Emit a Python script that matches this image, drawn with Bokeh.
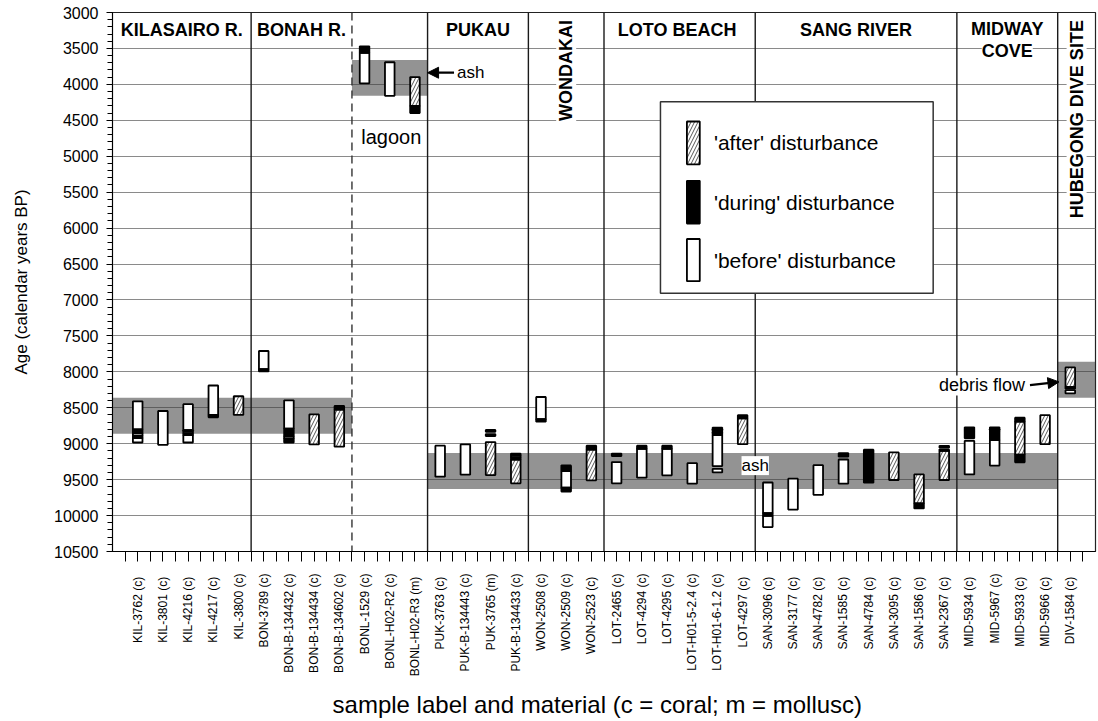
import math
from bokeh.plotting import figure
from bokeh.models import Range1d, SingleIntervalTicker, FixedTicker, Label, Arrow, NormalHead
from bokeh.core.properties import value
from bokeh.embed import file_html
from bokeh.resources import INLINE

# ---------------- data ----------------
sample_ids = ["KIL-3762", "KIL-3801", "KIL-4216", "KIL-4217", "KIL-3800",
              "BON-3789", "BON-B-134432", "BON-B-134434", "BON-B-134602",
              "BONL-1529", "BONL-H02-R2", "BONL-H02-R3",
              "PUK-3763", "PUK-B-134443", "PUK-3765", "PUK-B-134433",
              "WON-2508", "WON-2509", "WON-2523",
              "LOT-2465", "LOT-4294", "LOT-4295", "LOT-H01-5-2.4", "LOT-H01-6-1.2", "LOT-4297",
              "SAN-3096", "SAN-3177", "SAN-4782", "SAN-1585", "SAN-4784", "SAN-3095", "SAN-1586", "SAN-2367",
              "MID-5934", "MID-5967", "MID-5933", "MID-5966",
              "DIV-1584"]
tick_labels = ["KIL-3762  (c)", "KIL-3801  (c)", "KIL-4216  (c)", "KIL-4217  (c)", "KIL-3800 (c)",
               "BON-3789 (c)", "BON-B-134432 (c)", "BON-B-134434 (c)", "BON-B-134602 (c)",
               "BONL-1529 (c)", "BONL-H02-R2 (c)", "BONL-H02-R3  (m)",
               "PUK-3763  (c)", "PUK-B-134443 (c)", "PUK-3765 (m)", "PUK-B-134433 (c)",
               "WON-2508 (c)", "WON-2509 (c)", "WON-2523  (c)",
               "LOT-2465 (c)", "LOT-4294 (c)", "LOT-4295 (c)", "LOT-H01-5-2.4 (c)", "LOT-H01-6-1.2 (c)", "LOT-4297  (c)",
               "SAN-3096  (c)", "SAN-3177  (c)", "SAN-4782  (c)", "SAN-1585  (c)", "SAN-4784  (c)", "SAN-3095  (c)", "SAN-1586  (c)", "SAN-2367  (c)",
               "MID-5934  (c)", "MID-5967 (c)", "MID-5933  (c)", "MID-5966  (c)",
               "DIV-1584  (c)"]

site_headers = ["KILASAIRO R.", "BONAH R.", "", "PUKAU", "WONDAKAI", "LOTO  BEACH",
                "SANG RIVER", "MIDWAY|COVE", "HUBEGONG DIVE SITE"]
site_sizes = [5, 4, 3, 4, 3, 6, 8, 4, 1]

# disturbance-event shaded bands: (first site, last site, younger age, older age)
band_first_site = [0, 2, 3, 8]
band_last_site = [1, 2, 7, 8]
band_young = [8360, 3660, 9130, 7860]
band_old = [8860, 4160, 9630, 8360]

# age segments (sample, younger age, older age)
before_segments = [
    ("KIL-3762", 8410, 8800), ("KIL-3762", 8855, 8890), ("KIL-3762", 8922, 8983),
    ("KIL-3801", 8545, 9015),
    ("KIL-4216", 8450, 8812), ("KIL-4216", 8835, 8862), ("KIL-4216", 8882, 8983),
    ("KIL-4217", 8190, 8600),
    ("BON-3789", 7710, 7962),
    ("BON-B-134432", 8396, 8790), ("BON-B-134432", 8895, 8925),
    ("BONL-1529", 3560, 3985),
    ("BONL-H02-R2", 3692, 4159),
    ("PUK-3763", 9028, 9459),
    ("PUK-B-134443", 9010, 9431),
    ("PUK-B-134433", 9160, 9188),
    ("WON-2508", 8350, 8660),
    ("WON-2509", 9325, 9352), ("WON-2509", 9380, 9612),
    ("LOT-2465", 9255, 9551),
    ("LOT-4294", 9070, 9473),
    ("LOT-4295", 9070, 9440),
    ("LOT-H01-5-2.4", 9271, 9555),
    ("LOT-H01-6-1.2", 8798, 8820), ("LOT-H01-6-1.2", 8842, 8862), ("LOT-H01-6-1.2", 8882, 9312),
    ("LOT-H01-6-1.2", 9350, 9400),
    ("SAN-3096", 9540, 9965), ("SAN-3096", 10005, 10160),
    ("SAN-3177", 9487, 9917),
    ("SAN-4782", 9299, 9711),
    ("SAN-1585", 9220, 9556),
    ("MID-5934", 8800, 8825), ("MID-5934", 8960, 9427),
    ("MID-5967", 8798, 8822), ("MID-5967", 8950, 9305),
    ("DIV-1584", 8255, 8300),
]
during_segments = [
    ("KIL-3762", 8800, 8855), ("KIL-3762", 8890, 8922),
    ("KIL-4216", 8812, 8835), ("KIL-4216", 8862, 8882),
    ("KIL-4217", 8600, 8632),
    ("BON-3789", 7962, 7995),
    ("BON-B-134432", 8790, 8895), ("BON-B-134432", 8925, 8985),
    ("BON-B-134602", 8474, 8525),
    ("BONL-1529", 3470, 3560),
    ("BONL-H02-R3", 4300, 4400),
    ("PUK-3765", 8808, 8835), ("PUK-3765", 8866, 8894),
    ("PUK-B-134433", 9138, 9160), ("PUK-B-134433", 9188, 9221),
    ("WON-2508", 8660, 8694),
    ("WON-2509", 9303, 9325), ("WON-2509", 9352, 9380), ("WON-2509", 9612, 9665),
    ("WON-2523", 9028, 9083),
    ("LOT-2465", 9138, 9172),
    ("LOT-4294", 9028, 9070),
    ("LOT-4295", 9028, 9070),
    ("LOT-H01-6-1.2", 8775, 8798), ("LOT-H01-6-1.2", 8820, 8842), ("LOT-H01-6-1.2", 8862, 8882),
    ("LOT-4297", 8603, 8648),
    ("SAN-3096", 9965, 10005),
    ("SAN-1585", 9130, 9180),
    ("SAN-4784", 9084, 9542),
    ("SAN-1586", 9830, 9900),
    ("SAN-2367", 9030, 9055), ("SAN-2367", 9080, 9100),
    ("MID-5934", 8772, 8800), ("MID-5934", 8825, 8925),
    ("MID-5967", 8772, 8798), ("MID-5967", 8822, 8950),
    ("MID-5933", 8639, 8694), ("MID-5933", 9152, 9258),
    ("DIV-1584", 8210, 8232),
]
after_segments = [
    ("KIL-3800", 8340, 8600),
    ("BON-B-134434", 8593, 9010),
    ("BON-B-134602", 8525, 9042),
    ("BONL-H02-R3", 3898, 4300),
    ("PUK-3765", 8978, 9436),
    ("PUK-B-134433", 9221, 9551),
    ("WON-2523", 9083, 9510),
    ("LOT-4297", 8648, 9006),
    ("SAN-3095", 9120, 9505),
    ("SAN-1586", 9427, 9830),
    ("SAN-2367", 9100, 9505),
    ("MID-5933", 8694, 9152),
    ("MID-5966", 8603, 9006),
    ("DIV-1584", 7938, 8210),
]

legend_labels = ["'after' disturbance", "'during'  disturbance", "'before' disturbance"]

AGE_MIN, AGE_MAX = 3000, 10500
FONT = "Liberation Sans"

# ---------------- geometry helpers ----------------
n = len(sample_ids)
X_LO, X_HI = -1, n
edges = [X_LO]
c = 0
for s in site_sizes:
    c += s
    edges.append(c - 0.5)
edges[-1] = X_HI
idx = {s: i for i, s in enumerate(sample_ids)}
HW = 0.19

p = figure(width=1098, height=721, x_range=Range1d(X_LO, X_HI), y_range=Range1d(AGE_MAX, AGE_MIN),
           output_backend="svg", toolbar_location=None,
           min_border_left=112, min_border_right=3, min_border_top=12, min_border_bottom=163,
           background_fill_color="white", border_fill_color="white")
p.outline_line_color = "#222222"
p.outline_line_width = 1.2

# grid
p.xgrid.visible = False
p.ygrid.ticker = SingleIntervalTicker(interval=500)
p.ygrid.grid_line_color = "#8a8a8a"
p.ygrid.grid_line_width = 1

# y axis
p.yaxis.ticker = SingleIntervalTicker(interval=500, num_minor_ticks=5)
p.yaxis.axis_label = "Age (calendar years BP)"
p.yaxis.axis_label_text_font = FONT
p.yaxis.axis_label_text_font_style = "normal"
p.yaxis.axis_label_text_font_size = "17px"
p.yaxis.axis_label_text_color = "black"
p.yaxis.axis_label_standoff = 20
p.yaxis.major_label_text_font = FONT
p.yaxis.major_label_text_font_size = "16px"
p.yaxis.major_label_text_color = "black"
p.yaxis.major_label_standoff = 8
p.yaxis.major_tick_out = 6
p.yaxis.major_tick_in = 0
p.yaxis.minor_tick_out = 5
p.yaxis.minor_tick_in = 0
p.yaxis.axis_line_color = "black"
p.yaxis.major_tick_line_color = "black"
p.yaxis.minor_tick_line_color = "black"

# x axis
p.xaxis.ticker = FixedTicker(ticks=list(range(n)), minor_ticks=[i - 0.5 for i in range(n + 1)])
p.xaxis.major_label_overrides = {i: lab for i, lab in enumerate(tick_labels)}
p.xaxis.major_label_orientation = math.pi / 2
p.xaxis.major_label_text_font = FONT
p.xaxis.major_label_text_font_size = "12px"
p.xaxis.major_label_text_color = "black"
p.xaxis.major_label_standoff = 12
p.xaxis.major_tick_out = 10
p.xaxis.major_tick_in = 0
p.xaxis.minor_tick_out = 10
p.xaxis.minor_tick_in = 0
p.xaxis.axis_label = "sample label and material (c  = coral; m  = mollusc)"
p.xaxis.axis_label_text_font = FONT
p.xaxis.axis_label_text_font_style = "normal"
p.xaxis.axis_label_text_font_size = "24px"
p.xaxis.axis_label_text_color = "black"
p.xaxis.axis_label_standoff = 12
p.xaxis.axis_line_color = "black"
p.xaxis.major_tick_line_color = "black"
p.xaxis.minor_tick_line_color = "black"

# shaded bands
p.quad(left=[edges[i] for i in band_first_site], right=[edges[i + 1] for i in band_last_site],
       top=band_young, bottom=band_old, fill_color="#3a3a3a", fill_alpha=0.55, line_color=None)

# site separators
solid = [edges[i] for i in range(1, len(edges) - 1) if i != 2]
dashed = [edges[2]]
p.segment(x0=solid, y0=[AGE_MIN] * len(solid), x1=solid, y1=[AGE_MAX] * len(solid),
          line_color="#1a1a1a", line_width=1.4)
p.segment(x0=dashed, y0=[AGE_MIN], x1=dashed, y1=[AGE_MAX],
          line_color="#333333", line_width=1.4, line_dash="8 5")

# sample bars
def seg_cols(segs):
    xs = [idx[s] for s, _, _ in segs]
    return dict(left=[x - HW for x in xs], right=[x + HW for x in xs],
                top=[a for _, a, _ in segs], bottom=[b for _, _, b in segs])

p.quad(**seg_cols(before_segments), fill_color="white", line_color="black", line_width=1.8)
p.quad(**seg_cols(after_segments), fill_color="white", hatch_pattern="/", hatch_color="#555555",
       hatch_scale=7, hatch_weight=1, line_color="black", line_width=1.8)
p.quad(**seg_cols(during_segments), fill_color="black", line_color="black", line_width=1.8)

# legend (drawn in the plot)
lg_left, lg_right, lg_top, lg_bot = 20.74, 31.56, 4242, 6908
p.quad(left=[lg_left], right=[lg_right], top=[lg_top], bottom=[lg_bot],
       fill_color="white", line_color="#333333", line_width=1.5)
gl, gr = 21.79, 22.30
gy_top = [4517, 5342, 6152]
gy_bot = [5112, 5937, 6738]
p.quad(left=[gl], right=[gr], top=[gy_top[0]], bottom=[gy_bot[0]], fill_color="white",
       hatch_pattern="/", hatch_color="#555555", hatch_scale=7, hatch_weight=1,
       line_color="black", line_width=1.8)
p.quad(left=[gl], right=[gr], top=[gy_top[1]], bottom=[gy_bot[1]], fill_color="black",
       line_color="black", line_width=1.8)
p.quad(left=[gl], right=[gr], top=[gy_top[2]], bottom=[gy_bot[2]], fill_color="white",
       line_color="black", line_width=1.8)
p.text(x=[22.86] * 3, y=[(a + b) / 2 for a, b in zip(gy_top, gy_bot)], text=legend_labels,
       text_font=value(FONT), text_font_size="21px", text_baseline="middle", text_align="left",
       text_color="black")

# site headers
def label(**kw):
    kw.setdefault("text_font", FONT)
    kw.setdefault("text_color", "black")
    kw.setdefault("text_baseline", "middle")
    p.add_layout(Label(**kw))

for i, h in enumerate(site_headers):
    if not h:
        continue
    xc = (edges[i] + edges[i + 1]) / 2
    if h in ("WONDAKAI", "HUBEGONG DIVE SITE"):
        label(x=xc, y=3106, text=h, angle=math.pi / 2, text_align="right",
              text_font_size="18px", text_font_style="bold", background_fill_color="white")
    elif "|" in h:
        a, b = h.split("|")
        label(x=xc, y=3236, text=a, text_align="center", text_font_size="18px",
              text_font_style="bold", background_fill_color="white")
        label(x=xc, y=3540, text=b, text_align="center", text_font_size="18px",
              text_font_style="bold", background_fill_color="white")
    else:
        label(x=xc, y=3250, text=h, text_align="center", text_font_size="18px",
              text_font_style="bold")

# annotations
label(x=10.06, y=4727, text="lagoon", text_align="center", text_font_size="20px")
label(x=12.67, y=3838, text="ash", text_align="left", text_font_size="17px")
p.add_layout(Arrow(end=NormalHead(size=11, fill_color="black", line_color="black"),
                   x_start=12.55, y_start=3838, x_end=11.5, y_end=3838, line_width=2.2))
label(x=edges[6], y=9305, text="ash", text_align="center", text_font_size="17px",
      background_fill_color="white")
label(x=35.2, y=8190, text="debris flow", text_align="right", text_font_size="18px",
      background_fill_color="white")
p.add_layout(Arrow(end=NormalHead(size=11, fill_color="black", line_color="black"),
                   x_start=35.4, y_start=8185, x_end=36.55, y_end=8140, line_width=2.2))

open("out.html", "w").write(file_html(p, INLINE))
